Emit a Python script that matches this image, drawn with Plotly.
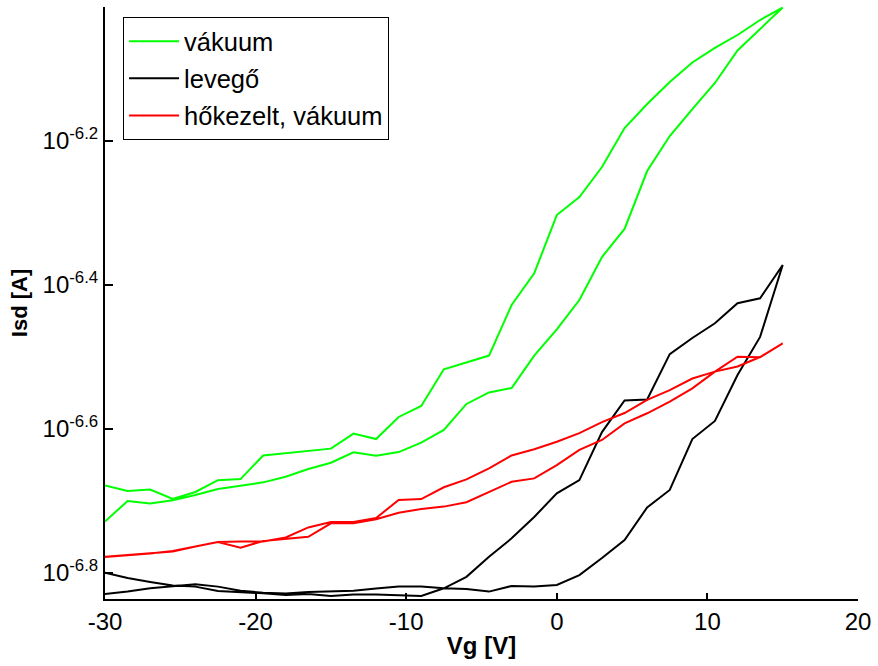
import numpy as np
import plotly.graph_objects as go

# Gate voltage sweep points [V]
vg = [-30, -28.5, -27, -25.5, -24, -22.5, -21, -19.5, -18, -16.5, -15,
      -13.5, -12, -10.5, -9, -7.5, -6, -4.5, -3, -1.5, 0, 1.5, 3, 4.5,
      6, 7.5, 9, 10.5, 12, 13.5, 15]

# Source-drain current in units of 1e-7 A, listed in ascending vg order.
# "_up" = sweep from -30 V to 15 V, "_down" = return sweep from 15 V to -30 V.
vakuum_up = [1.867, 1.994, 1.978, 1.998, 2.032, 2.071, 2.093, 2.116, 2.154, 2.208,
             2.253, 2.329, 2.304, 2.331, 2.402, 2.502, 2.719, 2.821, 2.861, 3.174,
             3.450, 3.791, 4.350, 4.758, 5.726, 6.404, 6.982, 7.589, 8.421, 9.018,
             9.660]
vakuum_down = [2.095, 2.058, 2.068, 2.006, 2.052, 2.131, 2.138, 2.306, 2.320, 2.339,
               2.357, 2.473, 2.430, 2.608, 2.701, 3.037, 3.108, 3.174, 3.731, 4.128,
               4.975, 5.270, 5.800, 6.570, 7.096, 7.613, 8.103, 8.489, 8.847, 9.282,
               9.660]

levego_up = [1.481, 1.492, 1.508, 1.516, 1.527, 1.516, 1.496, 1.487, 1.483, 1.490,
             1.492, 1.496, 1.507, 1.516, 1.517, 1.508, 1.505, 1.492, 1.519, 1.516,
             1.524, 1.573, 1.661, 1.759, 1.953, 2.065, 2.430, 2.575, 2.983, 3.369,
             4.240]
levego_down = [1.585, 1.558, 1.539, 1.522, 1.516, 1.495, 1.489, 1.484, 1.476, 1.481,
               1.471, 1.478, 1.478, 1.476, 1.471, 1.508, 1.564, 1.668, 1.769, 1.894,
               2.043, 2.131, 2.485, 2.750, 2.758, 3.189, 3.357, 3.519, 3.752, 3.812,
               4.240]

hokezelt_up = [1.668, 1.677, 1.686, 1.696, 1.723, 1.748, 1.751, 1.751, 1.774, 1.832,
               1.864, 1.864, 1.888, 2.000, 2.006, 2.083, 2.136, 2.213, 2.306, 2.352,
               2.409, 2.477, 2.566, 2.641, 2.754, 2.842, 2.949, 3.015, 3.065, 3.159,
               3.300]
hokezelt_down = [1.667, 1.675, 1.685, 1.699, 1.723, 1.748, 1.717, 1.754, 1.768, 1.778,
                 1.856, 1.856, 1.880, 1.920, 1.943, 1.958, 1.986, 2.054, 2.120, 2.143,
                 2.236, 2.347, 2.423, 2.555, 2.639, 2.739, 2.858, 3.015, 3.162, 3.156,
                 3.300]

CURRENT_UNIT = 1e-7  # A

series_names = ["vákuum", "levegő", "hőkezelt, vákuum"]
series_colors = ["#00FF00", "#000000", "#FF0000"]
series_up = [vakuum_up, levego_up, hokezelt_up]
series_down = [vakuum_down, levego_down, hokezelt_down]

x_tick_vals = [-30, -20, -10, 0, 10, 20]
x_tick_text = ["-30", "-20", "-10", "0", "10", "20"]
y_tick_exponents = [-6.8, -6.6, -6.4, -6.2]
y_tick_text = ["10<sup>-6.8</sup>", "10<sup>-6.6</sup>", "10<sup>-6.4</sup>", "10<sup>-6.2</sup>"]

fig = go.Figure()
for name, color, up, down in zip(series_names, series_colors, series_up, series_down):
    # full hysteresis loop: forward sweep followed by the return sweep
    x = vg + vg[::-1]
    y = np.array(up + down[::-1]) * CURRENT_UNIT
    fig.add_trace(go.Scatter(
        x=x, y=y, mode="lines", name=name, legendgroup=name,
        line=dict(color=color, width=2),
    ))

fig.update_layout(
    width=878, height=666,
    margin=dict(l=105, r=15, t=7, b=67),
    paper_bgcolor="white", plot_bgcolor="white",
    font=dict(family="Liberation Sans, Arial, sans-serif", size=24, color="black"),
    legend=dict(
        x=0.024, y=0.983, xanchor="left", yanchor="top",
        bgcolor="white", bordercolor="black", borderwidth=1,
        font=dict(size=25.5), tracegroupgap=1, itemwidth=50,
    ),
    xaxis=dict(
        range=[-30, 20], tickvals=x_tick_vals, ticktext=x_tick_text,
        ticks="inside", ticklen=6, tickwidth=1.5, tickcolor="black",
        showline=True, linecolor="black", linewidth=2,
        showgrid=False, zeroline=False,
        title=dict(text="<b>Vg [V]</b>", font=dict(size=24), standoff=3),
    ),
    yaxis=dict(
        type="log", range=[-6.8365, -6.0143],
        tickvals=[10 ** e for e in y_tick_exponents], ticktext=y_tick_text,
        ticks="inside", ticklen=8, tickwidth=2, tickcolor="black",
        showline=True, linecolor="black", linewidth=2,
        showgrid=False, zeroline=False,
        title=dict(text="<b>Isd [A]</b>", font=dict(size=22), standoff=9),
    ),
)

fig.write_html("out.html")
